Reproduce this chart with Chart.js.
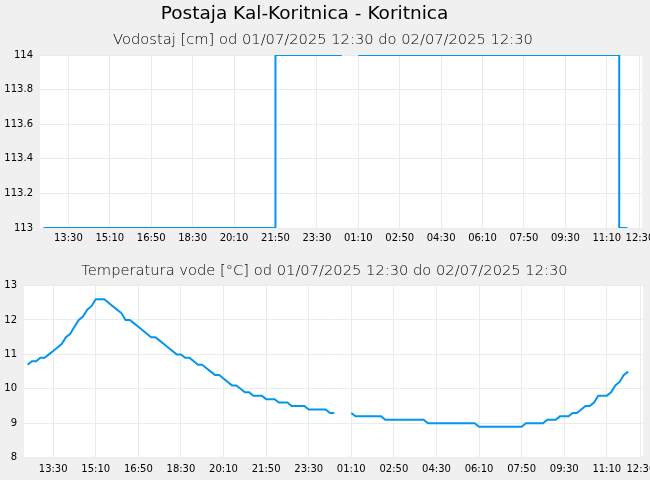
<!DOCTYPE html>
<html><head><meta charset="utf-8">
<script src="https://cdn.jsdelivr.net/npm/chart.js@4.4.0/dist/chart.umd.min.js"></script>
<style>
html,body{margin:0;padding:0;background:#f0f0f0;width:650px;height:480px;overflow:hidden;}
#wrap{position:relative;width:650px;height:480px;}
.t{position:absolute;white-space:nowrap;font-family:'DejaVu Sans';color:#000;transform:translate(-50%,-50%);line-height:1;}
canvas{position:absolute;left:0;}
</style></head><body>
<div id="wrap">
<canvas id="c1" width="650" height="250" style="top:0;width:650px;height:250px"></canvas>
<canvas id="c2" width="650" height="230" style="top:250px;width:650px;height:230px"></canvas>
<div class="t" style="left:304.5px;top:13px;font-size:18.5px">Postaja Kal-Koritnica - Koritnica</div>
<div class="t" style="left:323px;top:39px;font-size:14.7px;font-weight:200">Vodostaj [cm] od 01/07/2025 12:30 do 02/07/2025 12:30</div>
<div class="t" style="left:324.5px;top:270px;font-size:14.7px;font-weight:200">Temperatura vode [°C] od 01/07/2025 12:30 do 02/07/2025 12:30</div>
</div>
<script>
// sampling: every 10 minutes starting 01/07/2025 12:30 (minutes since start)
const sampleStepMinutes = 10;

// Vodostaj [cm]
const levelValues = [
  113,113,113,113,113,113,113,113,113,113,
  113,113,113,113,113,113,113,113,113,113,
  113,113,113,113,113,113,113,113,113,113,
  113,113,113,113,113,113,113,113,113,113,
  113,113,113,113,113,113,113,113,113,113,
  113,113,113,113,113,113,
  114,114,114,114,114,114,114,114,114,114,
  114,114,114,114,114,114,114,
  null,null,null,
  114,114,114,114,114,114,114,114,114,114,
  114,114,114,114,114,114,114,114,114,114,
  114,114,114,114,114,114,114,114,114,114,
  114,114,114,114,114,114,114,114,114,114,
  114,114,114,114,114,114,114,114,114,114,
  114,114,114,114,114,114,114,114,114,114,
  114,114,114,
  113,113,113
];

// Temperatura vode [°C]
const tempValues = [
  10.7,10.8,10.8,10.9,10.9,11.0,11.1,11.2,11.3,11.5,
  11.6,11.8,12.0,12.1,12.3,12.4,12.6,12.6,12.6,12.5,
  12.4,12.3,12.2,12.0,12.0,11.9,11.8,11.7,11.6,11.5,
  11.5,11.4,11.3,11.2,11.1,11.0,11.0,10.9,10.9,10.8,
  10.7,10.7,10.6,10.5,10.4,10.4,10.3,10.2,10.1,10.1,
  10.0,9.9,9.9,9.8,9.8,9.8,9.7,9.7,9.7,9.6,
  9.6,9.6,9.5,9.5,9.5,9.5,9.4,9.4,9.4,9.4,
  9.4,9.3,9.3,null,null,null,9.3,9.2,9.2,9.2,
  9.2,9.2,9.2,9.2,9.1,9.1,9.1,9.1,9.1,9.1,
  9.1,9.1,9.1,9.1,9.0,9.0,9.0,9.0,9.0,9.0,
  9.0,9.0,9.0,9.0,9.0,9.0,8.9,8.9,8.9,8.9,
  8.9,8.9,8.9,8.9,8.9,8.9,8.9,9.0,9.0,9.0,
  9.0,9.0,9.1,9.1,9.1,9.2,9.2,9.2,9.3,9.3,
  9.4,9.5,9.5,9.6,9.8,9.8,9.8,9.9,10.1,10.2,
  10.4,10.5
];

// x tick positions (minutes since 12:30) and labels
const tickMinutes = [60,160,260,360,460,560,660,760,860,960,1060,1160,1260,1360,1440];
const tickLabels = ["13:30","15:10","16:50","18:30","20:10","21:50","23:30","01:10","02:50","04:30","06:10","07:50","09:30","11:10","12:30"];

const lineColor = 'rgb(3,150,238)';
const gridColor = '#ebebeb';
const tickFont = {family:'DejaVu Sans', size:10};

const plotBg = {id:'plotBg', beforeDraw(chart){
  const {ctx, chartArea:a} = chart;
  ctx.save(); ctx.fillStyle = '#ffffff';
  ctx.fillRect(a.left, a.top, a.right - a.left, a.bottom - a.top);
  ctx.restore();
}};

function toPoints(values){
  return values.map((v, i) => ({x: i * sampleStepMinutes, y: v}));
}

function makeChart(id, values, yMin, yMax, yStep, yAxisW, xAxisH, xPad, pad, stepped){
  return new Chart(document.getElementById(id), {
    type: 'line',
    data: {datasets: [{
      data: toPoints(values),
      borderColor: lineColor, borderWidth: 2, pointRadius: 0,
      stepped: stepped, spanGaps: false, fill: false, tension: 0
    }]},
    options: {
      responsive: false, animation: false, devicePixelRatio: 1,
      layout: {padding: pad},
      plugins: {legend: {display: false}, tooltip: {enabled: false}, title: {display: false}},
      scales: {
        x: {
          type: 'linear', min: -8.5, max: 1445,
          afterBuildTicks: s => { s.ticks = tickMinutes.map(v => ({value: v})); },
          afterFit: s => { s.height = xAxisH; s.paddingLeft = 0; s.paddingRight = 0; },
          ticks: {autoSkip: false, maxRotation: 0, minRotation: 0, padding: xPad, color: '#000', font: tickFont,
            callback: v => tickLabels[tickMinutes.indexOf(v)]},
          grid: {color: gridColor, drawTicks: false},
          border: {display: false}
        },
        y: {
          min: yMin, max: yMax,
          afterFit: s => { s.width = yAxisW; s.paddingTop = 0; s.paddingBottom = 0; },
          ticks: {stepSize: yStep, padding: 7, color: '#000', font: tickFont,
            callback: v => String(Number(v.toFixed(1)))},
          grid: {color: gridColor, drawTicks: false},
          border: {display: false}
        }
      }
    },
    plugins: [plotBg]
  });
}

makeChart('c1', levelValues, 113, 114, 0.2, 40, 22, 4, {top: 55, right: 8, left: 0, bottom: 0}, true);
makeChart('c2', tempValues, 8, 13, 1, 24, 22.3, 6, {top: 35.5, right: 7, left: 0, bottom: 0}, false);
</script>
</body></html>
